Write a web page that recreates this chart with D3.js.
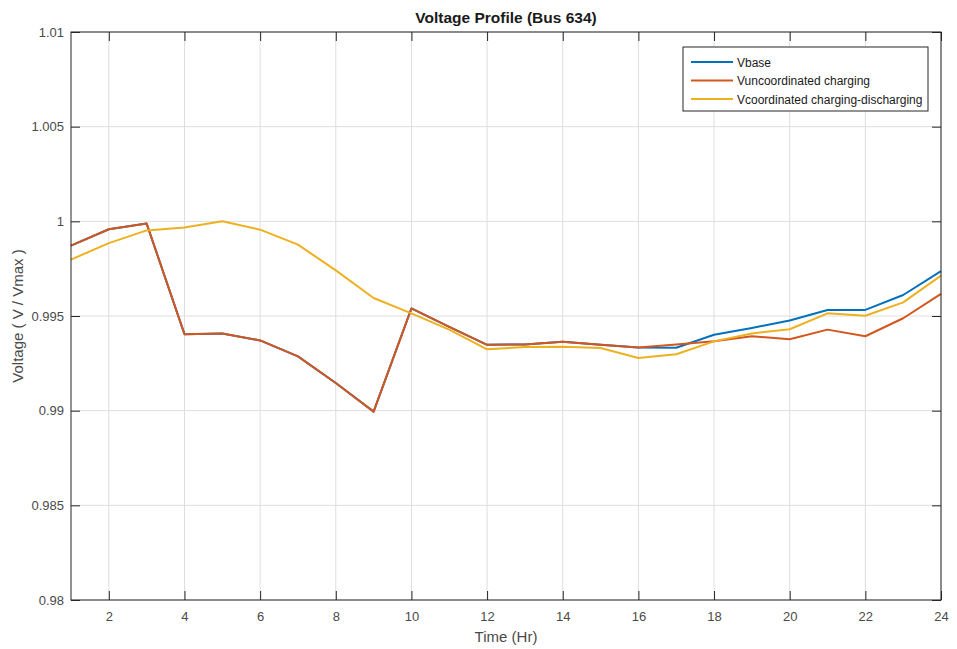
<!DOCTYPE html>
<html>
<head>
<meta charset="utf-8">
<script src="https://cdn.jsdelivr.net/npm/d3@7"></script>
<style>
  html, body { margin: 0; padding: 0; background: #fff; }
  svg { display: block; font-family: "Liberation Sans", Arial, sans-serif; }
</style>
</head>
<body>
<svg id="chart" width="957" height="649"></svg>
<script>
// Hourly voltage at bus 634 (per unit of Vmax)
const hours = d3.range(1, 25);
const vBase = [0.99872, 0.99958, 0.99988, 0.99404, 0.99408, 0.99371, 0.99287, 0.99146,
  0.98995, 0.99540, 0.99443, 0.99348, 0.99350, 0.99364, 0.99348, 0.99333,
  0.99332, 0.99401, 0.99437, 0.99476, 0.99532, 0.99532, 0.99611, 0.99737];
const vUncoord = [0.99872, 0.99958, 0.99988, 0.99404, 0.99408, 0.99371, 0.99287, 0.99146,
  0.98995, 0.99540, 0.99443, 0.99348, 0.99350, 0.99364, 0.99348, 0.99333,
  0.99350, 0.99367, 0.99393, 0.99377, 0.99428, 0.99393, 0.99488, 0.99617];
const vCoord = [0.99798, 0.99885, 0.99952, 0.99967, 1.00000, 0.99956, 0.99877, 0.99741,
  0.99595, 0.99514, 0.99428, 0.99324, 0.99336, 0.99338, 0.99331, 0.99278,
  0.99298, 0.99366, 0.99408, 0.99430, 0.99514, 0.99501, 0.99572, 0.99713];

const xTicks = [2, 4, 6, 8, 10, 12, 14, 16, 18, 20, 22, 24];
const yTicks = [0.98, 0.985, 0.99, 0.995, 1, 1.005, 1.01];
const yTickLabels = ["0.98", "0.985", "0.99", "0.995", "1", "1.005", "1.01"];

const seriesNames = ["Vbase", "Vuncoordinated charging", "Vcoordinated charging-discharging"];
const seriesColors = ["#0072BD", "#D4561F", "#EDB120"];
const seriesData = [vBase, vUncoord, vCoord];

const svg = d3.select("#chart");
const m = { left: 71, right: 941, top: 32, bottom: 600 };

const x = d3.scaleLinear().domain([1, 24]).range([m.left, m.right]);
const y = d3.scaleLinear().domain([0.98, 1.01]).range([m.bottom, m.top]);

// grid
const grid = svg.append("g");
grid.selectAll("line.gx").data(xTicks).join("line")
  .attr("x1", d => x(d)).attr("x2", d => x(d))
  .attr("y1", m.top).attr("y2", m.bottom)
  .attr("stroke", "#dedede").attr("stroke-width", 1);
grid.selectAll("line.gy").data(yTicks).join("line")
  .attr("y1", d => y(d)).attr("y2", d => y(d))
  .attr("x1", m.left).attr("x2", m.right)
  .attr("stroke", "#dedede").attr("stroke-width", 1);

// lines
const line = d3.line().x((d, i) => x(hours[i])).y(d => y(d));
svg.append("g").selectAll("path").data(seriesData).join("path")
  .attr("d", d => line(d))
  .attr("fill", "none")
  .attr("stroke", (d, i) => seriesColors[i])
  .attr("stroke-width", 2)
  .attr("stroke-linejoin", "round");

// axes (inward ticks, MATLAB-style box)
const tickLen = 9;
const axisColor = "#262626";
const labelColor = "#4a4a4a";

const xb = svg.append("g").attr("transform", `translate(0,${m.bottom})`)
  .call(d3.axisBottom(x).tickValues(xTicks).tickSizeInner(-tickLen).tickSizeOuter(0).tickPadding(12));
const xt = svg.append("g").attr("transform", `translate(0,${m.top})`)
  .call(d3.axisTop(x).tickValues(xTicks).tickSizeInner(-tickLen).tickSizeOuter(0).tickFormat(""));
const yl = svg.append("g").attr("transform", `translate(${m.left},0)`)
  .call(d3.axisLeft(y).tickValues(yTicks).tickSizeInner(-tickLen).tickSizeOuter(0).tickPadding(7)
    .tickFormat((d, i) => yTickLabels[i]));
const yr = svg.append("g").attr("transform", `translate(${m.right},0)`)
  .call(d3.axisRight(y).tickValues(yTicks).tickSizeInner(-tickLen).tickSizeOuter(0).tickFormat(""));

[xb, xt, yl, yr].forEach(g => {
  g.select(".domain").remove();
  g.selectAll(".tick line").attr("stroke", axisColor).attr("stroke-width", 1);
  g.selectAll(".tick text").attr("fill", labelColor).attr("font-size", 13)
    .attr("font-family", "'Liberation Sans', Arial, sans-serif");
});

// box
svg.append("rect")
  .attr("x", m.left).attr("y", m.top)
  .attr("width", m.right - m.left).attr("height", m.bottom - m.top)
  .attr("fill", "none").attr("stroke", axisColor).attr("stroke-width", 1);

// titles
svg.append("text").attr("x", (m.left + m.right) / 2).attr("y", 23)
  .attr("text-anchor", "middle").attr("font-size", 15.5).attr("font-weight", "bold")
  .attr("fill", "#1a1a1a").text("Voltage Profile (Bus 634)");
svg.append("text").attr("x", (m.left + m.right) / 2).attr("y", 642)
  .attr("text-anchor", "middle").attr("font-size", 15).attr("fill", labelColor)
  .text("Time (Hr)");
svg.append("text").attr("transform", `translate(23,${(m.top + m.bottom) / 2}) rotate(-90)`)
  .attr("text-anchor", "middle").attr("font-size", 15).attr("fill", labelColor)
  .text("Voltage ( V / Vmax )");

// legend
const lg = svg.append("g").attr("transform", "translate(683,47)");
lg.append("rect").attr("width", 245).attr("height", 64)
  .attr("fill", "#fff").attr("stroke", axisColor).attr("stroke-width", 1);
const rows = lg.selectAll("g.row").data(seriesNames).join("g")
  .attr("transform", (d, i) => `translate(0,${15 + i * 18.5})`);
rows.append("line").attr("x1", 8).attr("x2", 50).attr("y1", 0).attr("y2", 0)
  .attr("stroke", (d, i) => seriesColors[i]).attr("stroke-width", 2);
rows.append("text").attr("x", 54).attr("y", 4.5).attr("font-size", 12)
  .attr("fill", "#1a1a1a").text(d => d);
</script>
</body>
</html>
